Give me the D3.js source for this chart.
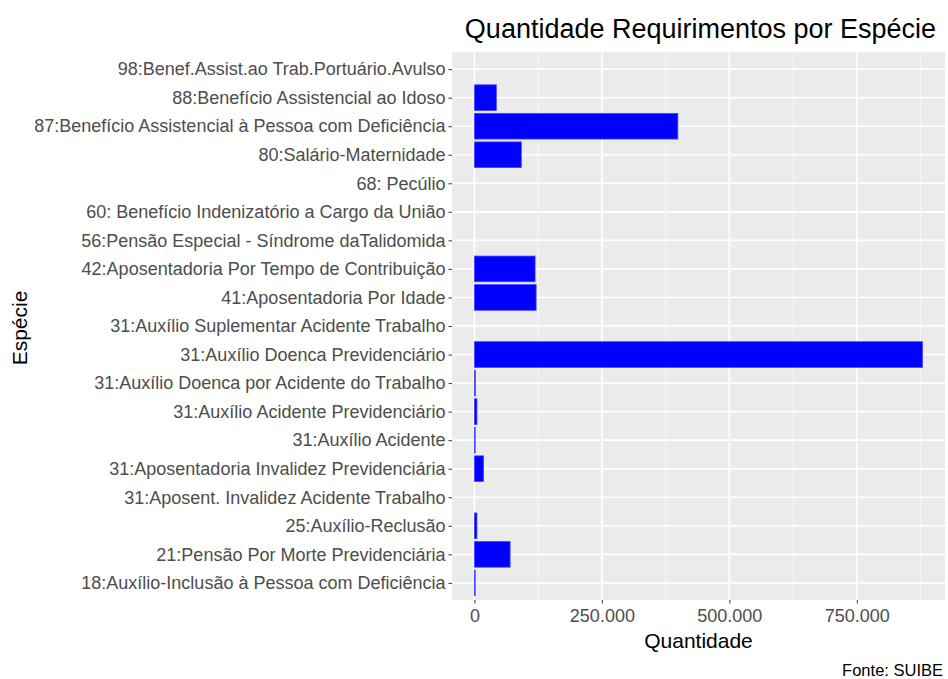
<!DOCTYPE html>
<html>
<head>
<meta charset="utf-8">
<script src="https://cdn.jsdelivr.net/npm/d3@7"></script>
<style>
  body { margin: 0; background: #fff; }
  text { font-family: "Liberation Sans", Arial, sans-serif; }
</style>
</head>
<body>
<div id="chart"></div>
<script>
  // categories, bottom to top as ggplot draws them
  var especies = [
    '18:Auxílio-Inclusão à Pessoa com Deficiência',
    '21:Pensão Por Morte Previdenciária',
    '25:Auxílio-Reclusão',
    '31:Aposent. Invalidez Acidente Trabalho',
    '31:Aposentadoria Invalidez Previdenciária',
    '31:Auxílio Acidente',
    '31:Auxílio Acidente Previdenciário',
    '31:Auxílio Doenca por Acidente do Trabalho',
    '31:Auxílio Doenca Previdenciário',
    '31:Auxílio Suplementar Acidente Trabalho',
    '41:Aposentadoria Por Idade',
    '42:Aposentadoria Por Tempo de Contribuição',
    '56:Pensão Especial - Síndrome daTalidomida',
    '60: Benefício Indenizatório a Cargo da União',
    '68: Pecúlio',
    '80:Salário-Maternidade',
    '87:Benefício Assistencial à Pessoa com Deficiência',
    '88:Benefício Assistencial ao Idoso',
    '98:Benef.Assist.ao Trab.Portuário.Avulso'
  ];
  var quantidades = [
    1500, 70000, 5000, 0, 18000, 1500, 5000, 1800, 879000, 0,
    121000, 119000, 0, 0, 0, 92000, 399000, 43000, 0
  ];
  var xTicks = [0, 250000, 500000, 750000];
  var xMinor = [125000, 375000, 625000, 875000];

  var width = 948, height = 679;
  var panel = { left: 452, right: 945, top: 52, bottom: 600 };
  var font = '"Liberation Sans", Arial, sans-serif';

  var svg = d3.select('#chart')
    .append('svg')
    .attr('width', width)
    .attr('height', height);

  var maxQ = d3.max(quantidades);
  var x = d3.scaleLinear()
    .domain([-0.05 * maxQ, 1.05 * maxQ])
    .range([panel.left, panel.right]);

  // discrete axis with ggplot's 0.6 expansion
  var step = (panel.bottom - panel.top) / (especies.length - 1 + 1.2);
  var y = d3.scalePoint()
    .domain(especies)
    .range([panel.bottom - 0.6 * step, panel.top + 0.6 * step]);

  var fmt = function(v) { return d3.format(',')(v).replace(/,/g, '.'); };

  // panel background
  svg.append('rect')
    .attr('x', panel.left)
    .attr('y', panel.top)
    .attr('width', panel.right - panel.left)
    .attr('height', panel.bottom - panel.top)
    .attr('fill', '#ebebeb');

  // minor grid
  svg.selectAll('.minor')
    .data(xMinor.filter(function(v) { return x(v) < panel.right; }))
    .enter().append('line')
    .attr('x1', function(d) { return x(d); })
    .attr('x2', function(d) { return x(d); })
    .attr('y1', panel.top)
    .attr('y2', panel.bottom)
    .attr('stroke', '#fafafa')
    .attr('stroke-width', 0.8);

  // major grid
  svg.selectAll('.vgrid')
    .data(xTicks)
    .enter().append('line')
    .attr('x1', function(d) { return x(d); })
    .attr('x2', function(d) { return x(d); })
    .attr('y1', panel.top)
    .attr('y2', panel.bottom)
    .attr('stroke', '#ffffff')
    .attr('stroke-width', 1.6);

  svg.selectAll('.hgrid')
    .data(especies)
    .enter().append('line')
    .attr('x1', panel.left)
    .attr('x2', panel.right)
    .attr('y1', function(d) { return y(d); })
    .attr('y2', function(d) { return y(d); })
    .attr('stroke', '#ffffff')
    .attr('stroke-width', 1.6);

  // bars (zero counts get no bar)
  var barH = step * 0.9;
  var rows = especies.map(function(e, i) { return { especie: e, q: quantidades[i] }; })
    .filter(function(d) { return d.q > 0; });

  svg.selectAll('.bar')
    .data(rows)
    .enter().append('rect')
    .attr('x', x(0))
    .attr('y', function(d) { return y(d.especie) - barH / 2; })
    .attr('width', function(d) { return x(d.q) - x(0); })
    .attr('height', barH)
    .attr('fill', '#0000ff')
    .attr('stroke', '#4646ff')
    .attr('stroke-width', 0.8);

  // y axis
  var yAxis = svg.append('g')
    .attr('transform', 'translate(' + panel.left + ',0)')
    .call(d3.axisLeft(y).tickSize(3.5).tickPadding(3));
  yAxis.select('.domain').remove();
  yAxis.selectAll('.tick line').attr('stroke', '#333333');
  yAxis.selectAll('.tick text')
    .attr('fill', '#4d4d4d')
    .style('font-size', '18px')
    .style('font-family', font);

  // x axis
  var xAxis = svg.append('g')
    .attr('transform', 'translate(0,' + panel.bottom + ')')
    .call(d3.axisBottom(x).tickValues(xTicks).tickFormat(fmt).tickSize(3.5).tickPadding(6));
  xAxis.select('.domain').remove();
  xAxis.selectAll('.tick line').attr('stroke', '#333333');
  xAxis.selectAll('.tick text')
    .attr('fill', '#4d4d4d')
    .style('font-size', '18px')
    .style('font-family', font);

  // titles
  svg.append('text')
    .attr('x', (panel.left + panel.right) / 2 + 2)
    .attr('y', 38)
    .attr('text-anchor', 'middle')
    .attr('fill', '#000')
    .style('font-size', '27px')
    .text('Quantidade Requirimentos por Espécie');

  svg.append('text')
    .attr('x', (panel.left + panel.right) / 2)
    .attr('y', 648)
    .attr('text-anchor', 'middle')
    .attr('fill', '#000')
    .style('font-size', '21px')
    .text('Quantidade');

  svg.append('text')
    .attr('transform', 'translate(27,328) rotate(-90)')
    .attr('text-anchor', 'middle')
    .attr('fill', '#000')
    .style('font-size', '21px')
    .text('Espécie');

  svg.append('text')
    .attr('x', 943)
    .attr('y', 676)
    .attr('text-anchor', 'end')
    .attr('fill', '#000')
    .style('font-size', '16.5px')
    .text('Fonte: SUIBE');
</script>
</body>
</html>
